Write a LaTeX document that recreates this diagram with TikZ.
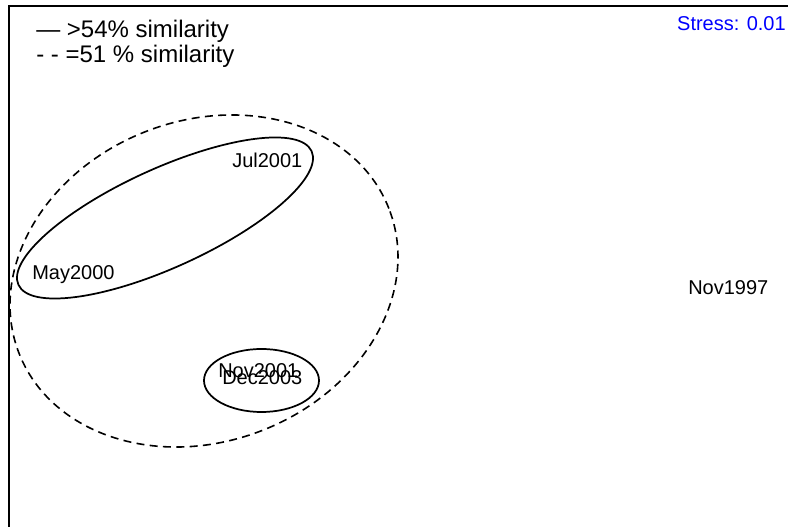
\documentclass[tikz,border=0pt]{standalone}
\usepackage{fontspec}
\setmainfont{Liberation Sans}
\tikzset{
  lbl/.style={anchor=base west, inner sep=0pt, font=\fontsize{15}{18}\selectfont},
  legendtxt/.style={anchor=base west, inner sep=0pt, font=\fontsize{18}{21}\selectfont},
  group/.style={line width=1.3pt},
  weakgroup/.style={line width=1.2pt, dash pattern=on 6pt off 4pt},
}
\begin{document}
\begin{tikzpicture}[x=0.75pt,y=0.75pt]
    \useasboundingbox (0,0) rectangle (788,527);
    \draw[line width=0.9pt] (9,0) -- (9,521) -- (788,521);

    \node[legendtxt] (strong) at (36,489) {— >54\% similarity};
    \node[legendtxt] (weak) at (36,464) {- - =51 \% similarity};
    \node[lbl, anchor=base east, text=blue] (stress) at (786,496) {Stress: 0.01};

    \node[lbl] (jul01) at (232,359) {Jul2001};
    \node[lbl] (may00) at (32,247) {May2000};
    \node[lbl] (nov01) at (218,149) {Nov2001};
    \node[lbl] (dec03) at (222,142) {Dec2003};
    \node[lbl] (nov97) at (688,232) {Nov1997};

    \draw[weakgroup, rotate around={21.4:(204,246)}] (204,246) ellipse [x radius=198.6, y radius=160.4];
    \draw[group, rotate around={24.5:(165,309)}] (165,309) ellipse [x radius=161.1, y radius=49.4];
    \draw[group] (261.5,146.5) ellipse [x radius=57.5, y radius=31.5];
\end{tikzpicture}
\end{document}
